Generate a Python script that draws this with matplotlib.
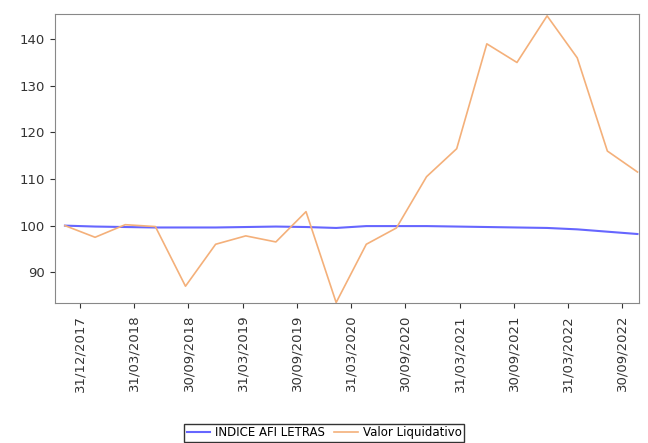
import matplotlib
matplotlib.use("Agg")
import matplotlib.pyplot as plt

indice = [100, 99.8, 99.7, 99.6, 99.6, 99.6, 99.7, 99.8, 99.7, 99.5, 99.9, 99.9, 99.9, 99.8, 99.7, 99.6, 99.5, 99.2, 98.7, 98.2]
valor = [100, 97.5, 100.2, 99.8, 87, 96, 97.8, 96.5, 103, 83.5, 96, 99.5, 110.5, 116.5, 139, 135, 145, 136, 116, 111.5]
tick_labels = ["31/12/2017", "31/03/2018", "30/09/2018", "31/03/2019", "30/09/2019", "31/03/2020",
               "30/09/2020", "31/03/2021", "30/09/2021", "31/03/2022", "30/09/2022"]

fig = plt.figure(figsize=(6.48, 4.43), dpi=100)
ax = fig.add_axes([55/648, 1-303/443, (639-55)/648, (303-14)/443])
x = list(range(len(valor)))
ax.plot(x, indice, color="#6666ff", lw=1.5, label="INDICE AFI LETRAS")
ax.plot(x, valor, color="#f4b07a", lw=1.2, label="Valor Liquidativo")
ax.set_xlim(-0.33, 19.05)
ax.set_ylim(83.4, 145.4)
ax.set_yticks([90, 100, 110, 120, 130, 140])
ax.set_xticks([0.5 + 1.8 * k for k in range(len(tick_labels))])
ax.set_xticklabels(tick_labels, rotation=90, fontsize=9.5)
ax.tick_params(axis="y", labelsize=9.5, colors="#333333")
ax.tick_params(axis="x", colors="#333333", pad=5)
for s in ax.spines.values():
    s.set_color("#888888")
fig.legend(loc="lower center", bbox_to_anchor=(0.5, -0.01), ncol=2, fontsize=8.5,
           frameon=True, fancybox=False, edgecolor="black", handlelength=2, borderpad=0.2,
           columnspacing=0.8, handletextpad=0.4)
fig.savefig("out.png", dpi=100)
